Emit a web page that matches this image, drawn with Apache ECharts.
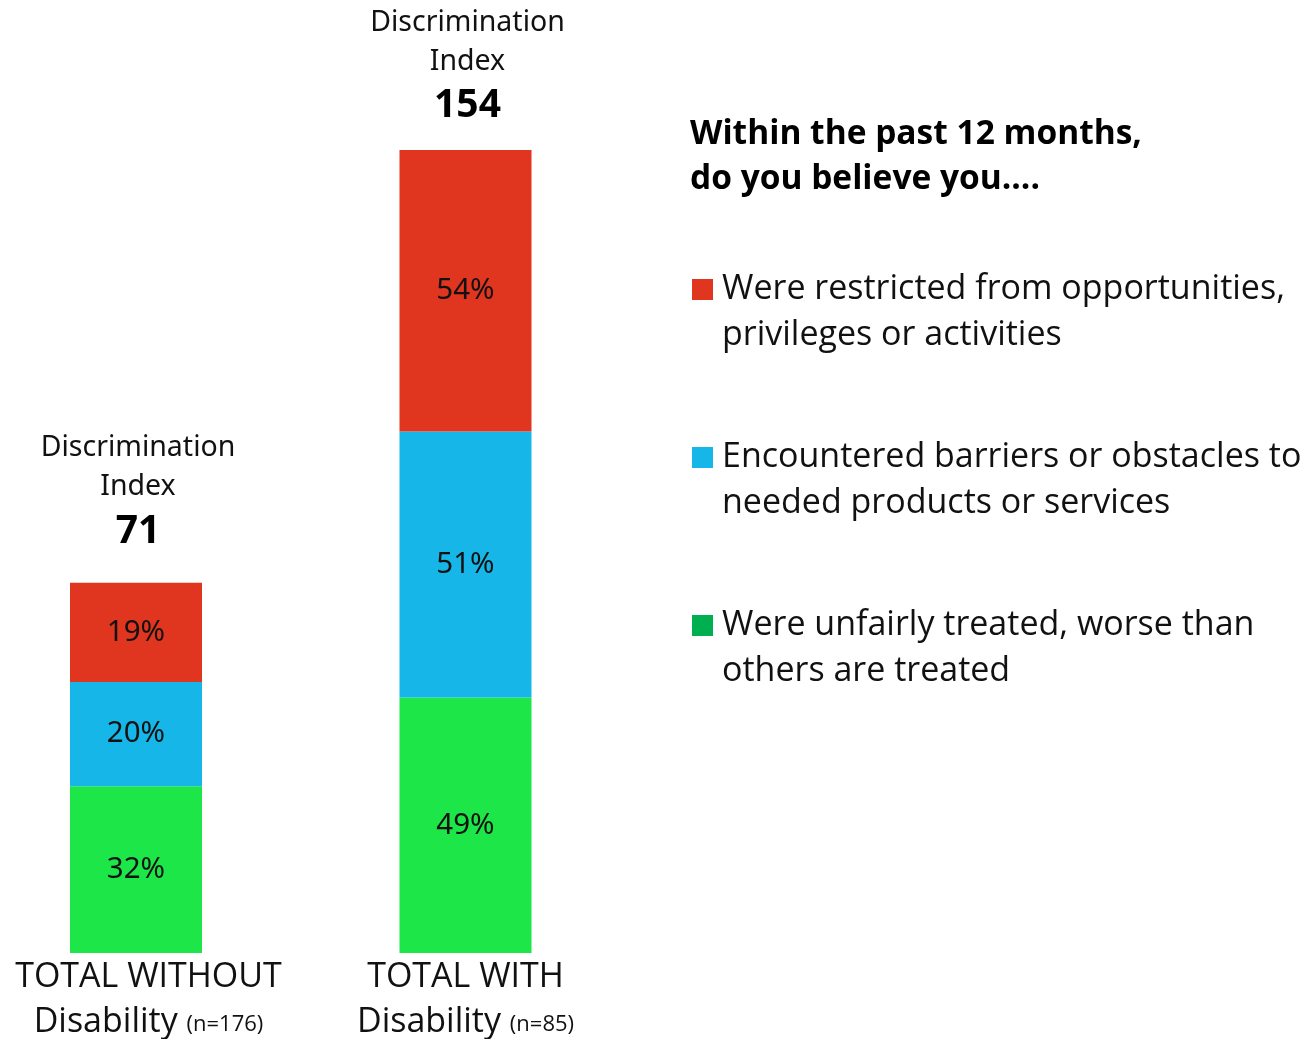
<!DOCTYPE html>
<html>
<head>
<meta charset="utf-8">
<title>Discrimination Index</title>
<script src="https://cdn.jsdelivr.net/npm/echarts@6/dist/echarts.min.js"></script>
<style>
  html, body { margin: 0; padding: 0; background: #fff; }
  #chart { width: 1311px; height: 1039px; }
</style>
</head>
<body>
<div id="chart"></div>
<script>
// Groups compared
const groups = ['TOTAL WITHOUT', 'TOTAL WITH'];
const groupSizes = ['n=176', 'n=85'];

// Share of respondents (%) reporting each experience, per group
const unfairlyTreated = [32, 49];
const barriers = [20, 51];
const restricted = [19, 54];

// Legend wording
const seriesNames = [
  'Were restricted from opportunities,\nprivileges or activities',
  'Encountered barriers or obstacles to\nneeded products or services',
  'Were unfairly treated, worse than\nothers are treated'
];

const RED = '#E0351F';
const BLUE = '#17B6E8';
const GREEN = '#1DE648';
const LEGEND_GREEN = '#00AF50';

// Discrimination index = sum of the three shares
const indexValues = groups.map((_, i) => unfairlyTreated[i] + barriers[i] + restricted[i]);

const pctFont = '"Noto Sans", Lato, sans-serif';
const bodyFont = '"Open Sans", "Noto Sans", sans-serif';

const pctLabel = {
  show: true,
  position: 'inside',
  formatter: p => p.value + '%',
  color: '#111',
  fontFamily: pctFont,
  fontSize: 29.5
};

const chart = echarts.init(document.getElementById('chart'), null, { renderer: 'canvas' });

chart.setOption({
  animation: false,
  backgroundColor: '#fff',
  title: {
    text: 'Within the past 12 months,\ndo you believe you....',
    left: 690,
    top: 112,
    padding: 0,
    textStyle: {
      fontFamily: bodyFont,
      fontSize: 33.5,
      fontWeight: 'bold',
      lineHeight: 45,
      color: '#000'
    }
  },
  legend: {
    orient: 'vertical',
    left: 692,
    top: 220.5,
    padding: 0,
    itemWidth: 21,
    itemHeight: 21,
    itemGap: 30,
    icon: 'rect',
    selectedMode: false,
    data: [
      { name: seriesNames[0], itemStyle: { color: RED } },
      { name: seriesNames[1], itemStyle: { color: BLUE } },
      { name: seriesNames[2], itemStyle: { color: LEGEND_GREEN } }
    ],
    // leading blank line keeps the swatch level with the first text line
    formatter: name => '\n' + name.split('\n').map(l => '{a|' + l + '}').join('\n'),
    textStyle: {
      fontFamily: bodyFont,
      fontSize: 34,
      lineHeight: 46,
      color: '#111',
      rich: {
        a: { fontFamily: bodyFont, fontSize: 34, lineHeight: 46, color: '#111', padding: [0, 0, 0, 4] }
      }
    }
  },
  grid: {
    left: 136,
    right: 845.5,
    top: 14.5,
    bottom: 86,
    outerBoundsMode: 'none'
  },
  xAxis: {
    type: 'category',
    boundaryGap: false,
    data: groups.map((g, i) => ({
      value: g + '\n' + 'Disability (' + groupSizes[i] + ')',
      textStyle: i === 0 ? { padding: [0, 0, 0, 25] } : {}
    })),
    axisLine: { show: false },
    axisTick: { show: false },
    axisLabel: {
      margin: 2,
      interval: 0,
      color: '#111',
      fontFamily: bodyFont,
      fontSize: 34,
      lineHeight: 45,
      formatter: v => {
        const [first, second] = v.split('\n');
        const m = second.match(/^(.*) (\(.*\))$/);
        return '{t|' + first + '}\n{t|' + m[1] + '} {s|' + m[2] + '}';
      },
      rich: {
        t: { fontFamily: bodyFont, fontSize: 34, lineHeight: 45, color: '#111' },
        s: { fontFamily: bodyFont, fontSize: 22, lineHeight: 45, color: '#111', verticalAlign: 'bottom', padding: [0, 0, 9, 0] }
      }
    }
  },
  yAxis: {
    type: 'value',
    min: 0,
    max: 180,
    show: false,
    splitLine: { show: false }
  },
  series: [
    {
      name: seriesNames[2],
      type: 'bar',
      stack: 'total',
      barWidth: 132,
      data: unfairlyTreated,
      itemStyle: { color: GREEN },
      label: pctLabel
    },
    {
      name: seriesNames[1],
      type: 'bar',
      stack: 'total',
      barWidth: 132,
      data: barriers,
      itemStyle: { color: BLUE },
      label: pctLabel
    },
    {
      name: seriesNames[0],
      type: 'bar',
      stack: 'total',
      barWidth: 132,
      data: restricted,
      itemStyle: { color: RED },
      label: pctLabel
    },
    {
      // zero-height cap on each stack carrying the index label
      name: 'Discrimination Index',
      type: 'bar',
      stack: 'total',
      barWidth: 132,
      data: indexValues.map((v, i) => ({
        value: 0,
        label: { distance: i === 0 ? 26 : 19 }
      })),
      itemStyle: { color: 'transparent' },
      label: {
        show: true,
        position: 'top',
        offset: [2, 0],
        formatter: p => '{h|Discrimination}\n{h|Index}\n{n|' + indexValues[p.dataIndex] + '}',
        rich: {
          h: { fontFamily: pctFont, fontSize: 28.5, lineHeight: 39, color: '#111', align: 'center' },
          n: { fontFamily: pctFont, fontSize: 39, fontWeight: 'bold', lineHeight: 50, color: '#000', align: 'center' }
        }
      }
    }
  ]
});
</script>
</body>
</html>
